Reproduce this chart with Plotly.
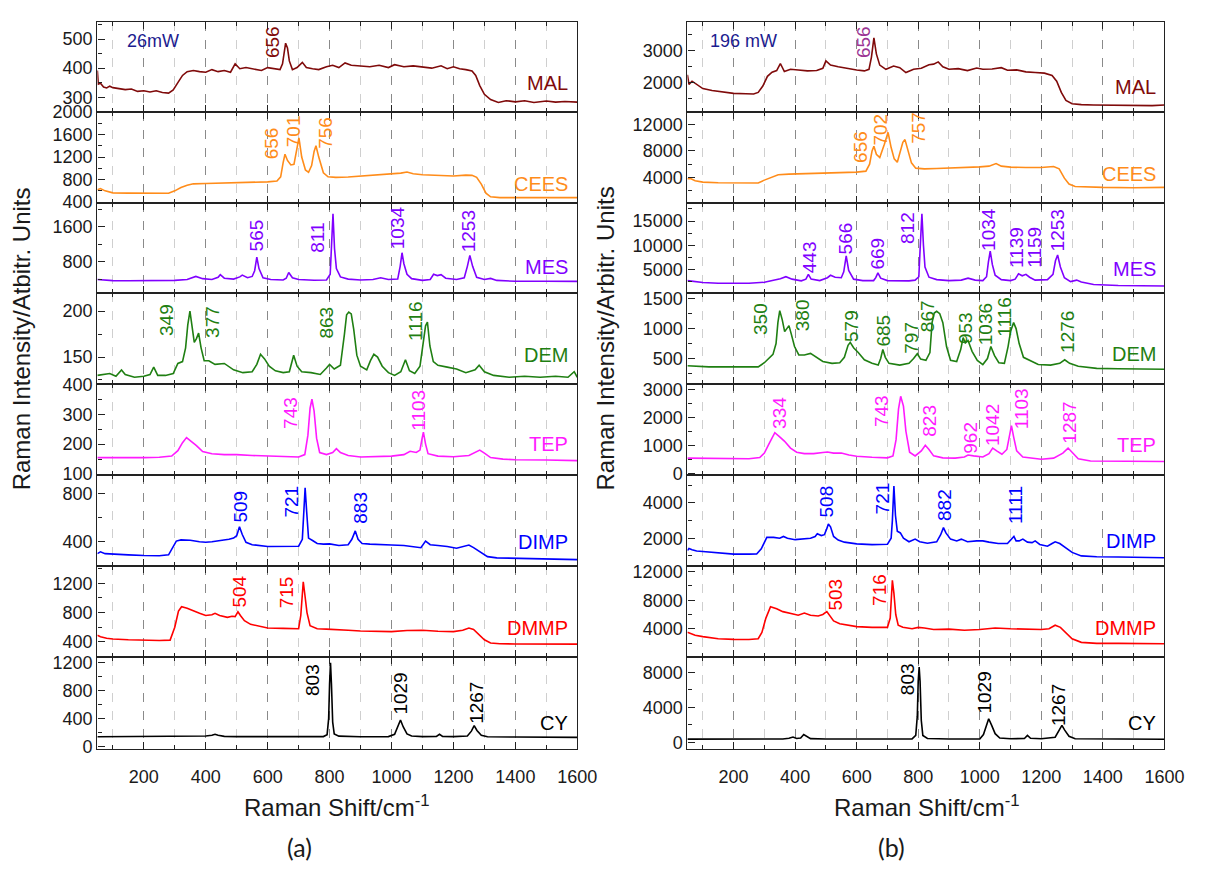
import plotly.graph_objects as go

# ---------------- DATA ----------------
# Panel (a): 26 mW, (Raman shift cm-1, intensity)
MAL_A = [(50,392),(53,345),(60,348),(70,335),(80,332),(90,338),(100,333),(120,330),(140,326),(160,328),(180,320),(200,322),(220,318),(240,322),(260,316),(280,314),(295,325),(310,350),(325,375),(340,388),(360,392),(380,388),(400,386),(420,395),(440,388),(460,392),(480,386),(495,415),(510,398),(530,402),(560,397),(580,392),(600,402),(620,398),(640,395),(648,415),(653,460),(658,486),(664,470),(670,425),(680,395),(695,402),(712,420),(725,402),(745,398),(765,395),(790,405),(810,410),(830,402),(850,418),(870,410),(900,408),(930,405),(960,410),(990,402),(1010,412),(1040,405),(1070,408),(1100,405),(1130,400),(1160,408),(1180,398),(1200,405),(1220,398),(1240,395),(1260,390),(1272,375),(1285,340),(1300,310),(1320,292),(1345,282),(1370,288),(1400,284),(1430,288),(1460,282),(1500,287),(1530,283),(1560,285),(1600,283)]
CEES_A = [(50,620),(60,640),(75,600),(100,565),(150,560),(200,560),(250,555),(280,558),(300,600),(320,660),(340,700),(360,725),(400,730),(450,735),(500,740),(550,745),(600,760),(630,775),(642,850),(650,1100),(656,1250),(664,1140),(675,1060),(685,1070),(694,1350),(701,1540),(710,1200),(722,970),(732,930),(742,1050),(750,1300),(756,1400),(765,1200),(780,920),(795,850),(820,840),(860,845),(900,860),(940,880),(980,900),(1000,905),(1030,915),(1050,935),(1070,905),(1100,885),(1150,870),(1200,865),(1240,880),(1260,875),(1275,840),(1290,720),(1305,560),(1320,495),(1350,480),(1400,478),(1500,476),(1600,480)]
MES_A = [(50,400),(70,390),(100,375),(150,372),(200,370),(250,372),(300,380),(340,400),(368,470),(390,420),(420,400),(440,450),(447,510),(460,430),(490,410),(510,460),(518,500),(535,440),(550,470),(558,600),(565,910),(572,650),(585,440),(610,400),(650,390),(660,430),(668,560),(680,440),(700,400),(750,385),(790,390),(802,520),(806,1100),(811,1900),(816,1100),(822,650),(835,460),(860,410),(900,390),(940,400),(965,440),(990,400),(1020,410),(1028,700),(1034,1010),(1040,760),(1050,520),(1065,420),(1100,380),(1125,400),(1136,520),(1148,490),(1160,510),(1175,430),(1210,400),(1235,440),(1245,700),(1253,950),(1262,700),(1275,450),(1300,400),(1320,425),(1340,380),(1400,360),(1500,360),(1600,358)]
DEM_A = [(50,130),(70,131),(90,132),(110,129),(128,136),(140,131),(170,128),(200,129),(220,131),(232,139),(245,130),(270,130),(295,132),(310,143),(325,145),(335,160),(342,185),(349,200),(356,185),(363,166),(370,170),(377,176),(385,160),(395,146),(410,146),(430,142),(460,143),(490,136),(520,133),(550,134),(565,142),(577,153),(590,148),(605,140),(625,135),(650,133),(670,134),(684,152),(695,140),(710,134),(740,133),(770,131),(790,138),(800,142),(815,137),(835,141),(848,175),(855,196),(862,199),(870,197),(878,180),(888,152),(900,140),(920,136),(932,146),(943,153),(955,150),(970,140),(990,133),(1010,130),(1030,134),(1045,147),(1058,135),(1075,132),(1092,140),(1102,165),(1110,184),(1116,188),(1124,162),(1135,145),(1150,141),(1180,139),(1210,137),(1240,133),(1270,136),(1283,141),(1300,134),(1330,130),(1380,128),(1430,129),(1480,128),(1530,129),(1570,128),(1590,134),(1600,128)]
TEP_A = [(50,155),(100,155),(150,153),(200,155),(250,156),(290,160),(310,178),(325,205),(338,222),(350,212),(370,195),(390,175),(420,168),(460,165),(500,165),(550,162),(600,160),(650,158),(700,157),(720,165),(730,230),(737,320),(743,350),(750,310),(758,220),(768,172),(790,165),(810,172),(822,185),(835,172),(860,162),(900,157),(950,158),(1000,160),(1040,165),(1060,176),(1080,172),(1092,180),(1098,215),(1103,240),(1110,200),(1118,168),(1150,160),(1200,158),(1250,162),(1270,172),(1285,180),(1300,170),(1320,155),(1360,150),(1400,148),(1500,147),(1600,145)]
DIMP_A = [(50,300),(60,315),(75,300),(100,295),(150,290),(200,285),(250,283),(280,290),(292,350),(305,405),(320,415),(350,412),(380,400),(400,395),(420,400),(450,410),(475,420),(490,430),(500,450),(509,525),(518,460),(530,395),(550,375),(600,360),(650,362),(700,362),(712,420),(717,650),(721,850),(726,650),(732,430),(745,410),(760,385),(780,380),(800,382),(830,368),(860,375),(872,420),(883,490),(892,420),(905,385),(930,380),(960,375),(1000,372),(1040,368),(1070,355),(1095,350),(1110,405),(1125,375),(1150,368),(1180,360),(1210,345),(1235,360),(1250,372),(1265,350),(1285,315),(1310,275),(1340,265),(1400,262),(1450,262),(1500,255),(1600,250)]
DMMP_A = [(50,490),(60,470),(80,450),(100,440),(150,430),(200,420),(250,420),(285,425),(300,600),(312,820),(322,880),(340,860),(360,820),(380,790),(400,760),(420,770),(430,790),(445,760),(470,735),(485,750),(495,745),(504,810),(512,760),(525,690),(545,640),(570,615),(600,590),(650,585),(700,580),(707,760),(711,1000),(715,1220),(720,1050),(727,800),(737,620),(760,580),(790,575),(820,565),(860,560),(900,550),(950,545),(1000,540),(1050,555),(1100,560),(1150,545),(1200,540),(1230,560),(1250,590),(1265,570),(1280,510),(1300,430),(1320,385),(1350,375),(1400,372),(1500,370),(1600,370)]
CY_A = [(50,140),(100,140),(200,140),(300,142),(380,143),(400,150),(420,160),(430,175),(440,160),(460,145),(500,142),(600,140),(700,140),(780,142),(792,170),(797,400),(800,900),(803,1200),(806,900),(810,350),(815,180),(830,148),(900,140),(990,142),(1010,175),(1020,280),(1029,380),(1038,280),(1050,180),(1065,150),(1100,142),(1145,145),(1155,175),(1165,145),(1200,142),(1245,150),(1258,220),(1267,300),(1276,230),(1290,160),(1310,140),(1400,135),(1500,133),(1600,130)]

# Panel (b): 196 mW
MAL_B = [(50,2250),(55,1950),(65,2050),(80,1950),(100,1820),(130,1760),(160,1720),(200,1670),(240,1660),(265,1650),(280,1700),(295,1900),(310,2200),(325,2330),(340,2380),(352,2600),(365,2350),(385,2420),(410,2400),(440,2370),(470,2380),(490,2450),(500,2680),(515,2550),(540,2500),(570,2440),(600,2400),(625,2370),(640,2420),(648,2800),(656,3400),(664,2900),(675,2550),(695,2420),(720,2520),(740,2470),(760,2320),(785,2420),(810,2450),(835,2560),(850,2580),(865,2650),(880,2500),(900,2420),(930,2440),(960,2380),(990,2460),(1010,2420),(1040,2430),(1070,2470),(1090,2390),(1120,2400),(1150,2340),(1180,2320),(1210,2300),(1235,2230),(1250,2050),(1265,1700),(1280,1450),(1300,1350),(1330,1320),(1370,1310),(1420,1300),(1470,1310),(1520,1300),(1560,1290),(1600,1310)]
CEES_B = [(50,3800),(60,3850),(75,3500),(100,3300),(150,3200),(200,3150),(250,3150),(280,3160),(300,3600),(320,4000),(345,4400),(380,4500),(420,4550),(460,4600),(500,4600),(550,4700),(600,4800),(630,4950),(642,6000),(650,8000),(656,8700),(664,7500),(675,7000),(690,9000),(702,10800),(712,8500),(722,6800),(732,6300),(742,7800),(750,9300),(757,9700),(766,8300),(778,6200),(792,5400),(820,5300),(860,5350),(900,5400),(950,5500),(1000,5600),(1030,5700),(1053,6100),(1070,5700),(1100,5550),(1150,5500),(1200,5500),(1240,5650),(1258,5300),(1275,3900),(1290,3000),(1310,2650),(1350,2550),(1400,2500),(1500,2450),(1600,2500)]
MES_B = [(50,2700),(70,2500),(100,2300),(150,2150),(200,2100),(250,2150),(300,2350),(330,2700),(352,3100),(370,3500),(390,3000),(420,2650),(435,3000),(443,4000),(452,3000),(480,2700),(505,3300),(515,3800),(530,3400),(550,3300),(558,4500),(566,7800),(574,4800),(590,3000),(620,2700),(655,2700),(662,3300),(669,4300),(678,3200),(700,2700),(740,2600),(770,2650),(790,2800),(802,3500),(806,9000),(812,16500),(817,10000),(822,5500),(835,3400),(860,2900),(900,2700),(940,2800),(962,3200),(985,2800),(1010,2700),(1022,3500),(1028,6500),(1034,8800),(1041,6000),(1050,3800),(1070,2900),(1100,2700),(1115,3000),(1126,4100),(1138,3700),(1150,4000),(1162,3400),(1180,2800),(1220,2900),(1238,4000),(1246,6800),(1253,8000),(1262,5500),(1275,3300),(1295,2500),(1315,2800),(1330,2400),(1370,1900),(1450,1700),(1600,1600)]
DEM_B = [(50,380),(80,370),(120,360),(180,360),(240,355),(280,360),(300,430),(315,500),(328,570),(338,750),(344,1100),(350,1300),(358,1150),(366,950),(374,1000),(380,1050),(388,900),(398,700),(412,560),(430,560),(450,585),(468,520),(490,450),(520,420),(545,430),(560,520),(572,720),(579,770),(590,680),(605,600),(625,480),(650,420),(670,390),(678,500),(685,650),(693,520),(705,420),(740,390),(770,420),(785,500),(797,580),(808,490),(825,470),(838,600),(845,1100),(852,1260),(860,1290),(870,1250),(880,1100),(892,700),(905,470),(925,450),(938,650),(946,850),(953,760),(962,800),(975,620),(992,470),(1010,400),(1025,500),(1036,700),(1048,550),(1062,430),(1080,420),(1092,700),(1100,950),(1110,1100),(1118,1000),(1128,750),(1142,520),(1160,470),(1190,400),(1230,390),(1260,420),(1276,480),(1292,420),(1320,370),(1380,335),(1450,330),(1530,325),(1600,320)]
TEP_B = [(50,540),(100,530),(150,525),(200,520),(250,520),(285,560),(300,720),(315,1050),(334,1450),(348,1320),(365,1150),(385,900),(405,750),(430,700),(460,700),(490,740),(505,760),(525,720),(550,720),(575,650),(600,610),(650,570),(700,550),(718,620),(728,1200),(736,2300),(743,2750),(752,2400),(760,1500),(772,750),(790,620),(810,800),(823,1000),(835,850),(850,620),(880,550),(920,540),(950,580),(962,650),(980,620),(1010,580),(1030,700),(1042,900),(1055,800),(1072,680),(1088,850),(1096,1300),(1103,1700),(1110,1300),(1120,800),(1140,580),(1170,540),(1200,500),(1240,540),(1270,720),(1287,900),(1300,750),(1320,520),(1360,440),(1420,430),(1500,425),(1600,420)]
DIMP_B = [(50,1300),(55,1420),(65,1350),(80,1280),(100,1250),(150,1180),(200,1100),(250,1100),(275,1110),(290,1400),(300,1800),(308,2050),(330,2050),(350,2000),(362,2100),(375,2000),(400,1920),(430,1950),(450,2000),(465,2100),(472,2250),(485,2150),(495,2200),(502,2500),(508,2800),(515,2650),(525,2100),(540,1900),(560,1780),(600,1680),(650,1640),(700,1660),(712,2000),(716,3000),(721,4950),(726,3300),(732,2400),(742,2300),(752,2000),(770,1800),(790,1950),(805,1800),(830,1720),(860,1800),(873,2200),(882,2600),(890,2300),(905,1950),(925,1850),(940,1950),(960,1800),(990,1850),(1010,1850),(1030,1780),(1060,1700),(1090,1700),(1103,1950),(1111,2100),(1118,1850),(1128,1850),(1140,1950),(1155,1780),(1170,1750),(1180,1850),(1195,1650),(1220,1550),(1235,1700),(1245,1800),(1260,1700),(1280,1450),(1300,1200),(1330,1000),(1380,950),(1450,940),(1500,930),(1600,900)]
DMMP_B = [(50,3500),(60,3300),(75,3100),(100,2900),(150,2600),(200,2520),(250,2500),(280,2600),(292,3500),(305,5500),(320,7100),(340,6800),(360,6400),(390,6100),(410,5900),(430,6200),(450,5900),(475,5800),(490,6000),(503,6400),(512,5800),(525,5100),(545,4700),(570,4500),(600,4300),(650,4200),(700,4200),(709,5500),(713,8000),(716,10800),(721,9000),(727,6000),(735,4500),(750,4200),(780,4000),(800,4200),(820,4100),(850,3900),(900,3950),(950,3800),(1000,3900),(1050,4100),(1100,4000),(1150,3950),(1200,3900),(1225,4000),(1245,4500),(1262,4200),(1280,3400),(1300,2600),(1330,2100),(1380,1950),(1450,1950),(1600,1900)]
CY_B = [(50,380),(100,380),(200,385),(300,380),(360,400),(380,480),(393,620),(405,450),(418,500),(428,900),(438,650),(450,430),(500,400),(600,390),(700,390),(780,400),(792,800),(797,3000),(800,7000),(803,8600),(806,7000),(810,2500),(815,800),(830,450),(900,400),(1000,400),(1012,900),(1020,1800),(1029,2700),(1038,2000),(1050,1000),(1065,500),(1100,420),(1145,450),(1155,800),(1165,480),(1200,420),(1245,600),(1257,1300),(1267,1950),(1276,1400),(1290,700),(1310,420),(1400,380),(1500,370),(1600,360)]

SERIES = ["MAL", "CEES", "MES", "DEM", "TEP", "DIMP", "DMMP", "CY"]
SPECTRA_A = [MAL_A, CEES_A, MES_A, DEM_A, TEP_A, DIMP_A, DMMP_A, CY_A]
SPECTRA_B = [MAL_B, CEES_B, MES_B, DEM_B, TEP_B, DIMP_B, DMMP_B, CY_B]

PEAKS_A = [["656"], ["656", "701", "756"], ["565", "811", "1034", "1253"], ["349", "377", "863", "1116"],
           ["743", "1103"], ["509", "721", "883"], ["504", "715"], ["803", "1029", "1267"]]
PEAKS_B = [["656"], ["656", "702", "757"], ["443", "566", "669", "812", "1034", "1139", "1159", "1253"],
           ["350", "380", "579", "685", "797", "867", "953", "1036", "1116", "1276"],
           ["334", "743", "823", "962", "1042", "1103", "1287"], ["508", "721", "882", "1111"],
           ["503", "716"], ["803", "1029", "1267"]]

POWER = ["26mW", "196 mW"]
X_TITLE = "Raman Shift/cm<sup>-1</sup>"
Y_TITLES = ["Raman Intensity/Atbitr. Units", "Raman Intensity/Arbitr. Units"]
PANEL_TAGS = ["(a)", "(b)"]

# ---------------- LAYOUT / STYLE ----------------
W, H = 1208, 874
COLORS = ["#7f0a0a", "#ff8c1a", "#8000ff", "#1f7f12", "#ff1aff", "#0000ff", "#ff0000", "#000000"]
PEAK_COLOR_B_MAL = "#9b3594"
FONT = "Liberation Sans, Arial, sans-serif"
ROW_EDGES = [13, 105, 198, 290, 383, 476, 569, 662, 756]
X_PIX = [(99, 587), (699, 1184)]

# y ranges and tick steps per panel/row
YCFG_A = [([250, 560], 100), ([390, 2005], 400), ([100, 2150], 800), ([121, 220], 50),
          ([98, 402], 100), ([200, 960], 400), ([200, 1440], 400), ([-30, 1290], 400)]
YCFG_B = [([1100, 3900], 1000), ([200, 13900], 4000), ([200, 18800], 5000), ([80, 1600], 500),
          ([-50, 3200], 1000), ([450, 5600], 2000), ([100, 12850], 4000), ([-700, 9800], 4000)]

# peak label centre positions (x, y in data units) matching PEAKS_* order
LABPOS_A = [[(615, 491)], [(615, 1450), (684, 1653), (786, 1635)],
            [(564, 1393), (760, 1355), (1019, 1578), (1249, 1489)],
            [(274, 190), (421, 188.5), (790, 188), (1075, 189)],
            [(676, 305), (1087, 313)], [(512, 697), (676, 737), (900, 680)],
            [(506, 1080), (659, 1075)], [(747, 957), (1029, 766), (1276, 626)]]
LABPOS_B = [[(622, 3280)], [(610, 8565), (678, 11165), (800, 11500)],
            [(445, 7533), (564, 11333), (668, 8200), (765, 13667), (1026, 13333), (1119, 9533), (1179, 9667), (1252, 13133)],
            [(289, 1161), (424, 1215), (583, 1051), (688, 964), (778, 855), (830, 1215), (952, 1008), (1017, 1073), (1082, 1199), (1283, 942)],
            [(347, 2149), (681, 2206), (837, 1862), (970, 1253), (1042, 1712), (1134, 2321), (1293, 1804)],
            [(502, 4056), (687, 4280), (883, 3869), (1116, 3906)],
            [(532, 8763), (676, 9456)], [(765, 7273), (1014, 5704), (1258, 4287)]]
NAMEPOS_A = [350, 725, 696, 152.5, 202, 400, 587, 336]
NAMEPOS_B = [1880, 4490, 5133, 571, 1023, 1850, 4139, 2182]

fig = go.Figure()
layout = dict(width=W, height=H, margin=dict(l=0, r=0, t=0, b=0),
              paper_bgcolor="white", plot_bgcolor="white", showlegend=False,
              font=dict(family=FONT, color="#1a1a1a"))
annotations = []

panels = [(SPECTRA_A, PEAKS_A, LABPOS_A, YCFG_A, NAMEPOS_A),
          (SPECTRA_B, PEAKS_B, LABPOS_B, YCFG_B, NAMEPOS_B)]

for p, (spectra, peaks, labpos, ycfg, namepos) in enumerate(panels):
    xd = [X_PIX[p][0] / W, X_PIX[p][1] / W]
    for r in range(8):
        n = p * 8 + r + 1
        xs = "" if n == 1 else str(n)
        bottom = (r == 7)
        layout["xaxis" + xs] = dict(
            domain=xd, anchor="y" + xs, range=[50, 1600],
            tick0=0, dtick=200, tickformat="d",
            ticks="inside", ticklen=7, tickwidth=1.4, tickcolor="#222",
            showline=True, linecolor="#222", linewidth=1.1, mirror="ticks",
            showgrid=True, gridcolor="#8a8a8a", griddash="dash", gridwidth=1,
            zeroline=False,
            showticklabels=bottom, tickfont=dict(size=18, family=FONT, color="#1a1a1a"),
            ticklabelstandoff=12,
            minor=dict(dtick=100, tick0=0, ticks="inside", ticklen=4, tickwidth=1.1,
                       tickcolor="#222", showgrid=True, gridcolor="#cfcfcf",
                       griddash="dash", gridwidth=1),
        )
        rng, dt = ycfg[r]
        layout["yaxis" + xs] = dict(
            domain=[1 - ROW_EDGES[r + 1] / H, 1 - ROW_EDGES[r] / H], anchor="x" + xs,
            range=rng, tick0=0, dtick=dt, tickformat="d",
            ticks="inside", ticklen=7, tickwidth=1.4, tickcolor="#222",
            showline=True, linecolor="#222", linewidth=1.3, mirror=True,
            showgrid=False, zeroline=False,
            tickfont=dict(size=18, family=FONT, color="#1a1a1a"),
            minor=dict(dtick=dt / 2, tick0=0, ticks="inside", ticklen=4, tickwidth=1.1,
                       tickcolor="#222"),
        )
        data = spectra[r]
        fig.add_trace(go.Scatter(
            x=[d[0] for d in data], y=[d[1] for d in data], mode="lines",
            line=dict(color=COLORS[r], width=1.6), xaxis="x" + xs, yaxis="y" + xs,
            name=SERIES[r], hoverinfo="x+y+name"))
        # peak labels
        pc = PEAK_COLOR_B_MAL if (p == 1 and r == 0) else COLORS[r]
        for txt, (lx, ly) in zip(peaks[r], labpos[r]):
            annotations.append(dict(
                x=lx, y=ly, xref="x" + xs, yref="y" + xs, text=txt, textangle=-90,
                showarrow=False, xanchor="center", yanchor="middle",
                font=dict(size=19, family=FONT, color=pc)))
        # series name
        annotations.append(dict(
            x=1575 if p == 0 else 1580, y=namepos[r], xref="x" + xs, yref="y" + xs,
            text=SERIES[r], showarrow=False, xanchor="right", yanchor="middle",
            font=dict(size=20, family=FONT, color=COLORS[r])))

    # power label
    annotations.append(dict(x=(127 if p == 0 else 720) / W, y=1 - 33 / H, xref="paper", yref="paper",
                            text=POWER[p], showarrow=False, xanchor="left", yanchor="middle",
                            font=dict(size=18, family=FONT, color="#1c1c8f")))
    # x title
    annotations.append(dict(x=(343 if p == 0 else 943) / W, y=1 - 815 / H, xref="paper", yref="paper",
                            text=X_TITLE, showarrow=False, xanchor="center", yanchor="middle",
                            font=dict(size=24, family=FONT, color="#1a1a1a")))
    # y title
    annotations.append(dict(x=(22 if p == 0 else 616) / W, y=1 - 337 / H, xref="paper", yref="paper",
                            text=Y_TITLES[p], showarrow=False, textangle=-90,
                            xanchor="center", yanchor="middle",
                            font=dict(size=24, family=FONT, color="#1a1a1a")))
    # panel tag
    annotations.append(dict(x=(305 if p == 0 else 907) / W, y=1 - 857 / H, xref="paper", yref="paper",
                            text=PANEL_TAGS[p], showarrow=False, xanchor="center", yanchor="middle",
                            font=dict(size=25, family="Lato, Open Sans, sans-serif", color="#1a1a1a")))

layout["annotations"] = annotations
fig.update_layout(**layout)
fig.write_html("out.html")
